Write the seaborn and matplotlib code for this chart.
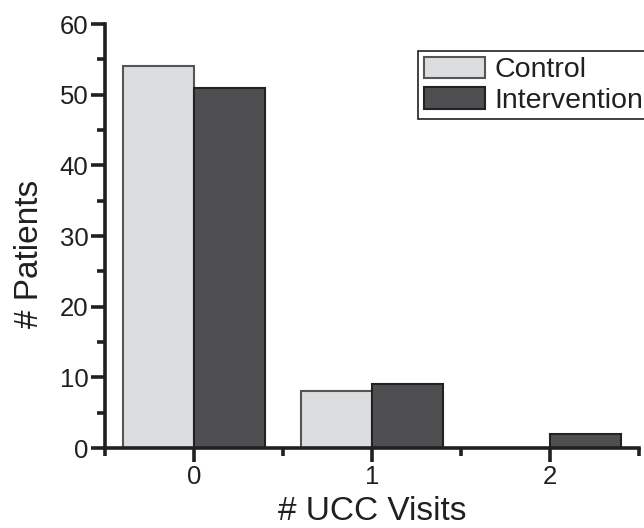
import matplotlib
matplotlib.use("Agg")
import matplotlib.pyplot as plt
import seaborn as sns
import pandas as pd
from matplotlib.ticker import MultipleLocator, FixedLocator
from matplotlib.patches import Patch

# === data ===
visits = ["0", "1", "2"]
control = [54, 8, 0]
intervention = [51, 9, 2]
groups = ["Control", "Intervention"]

df = pd.DataFrame({
    "visits": visits * 2,
    "patients": control + intervention,
    "group": [groups[0]] * len(visits) + [groups[1]] * len(visits),
})

sns.set_style("ticks")
plt.rcParams["font.family"] = ["Liberation Sans", "DejaVu Sans"]

ink = "#231f20"
fills = {"Control": "#dcdddf", "Intervention": "#4f4f51"}
edges = {"Control": "#555555", "Intervention": "#222222"}

fig = plt.figure(figsize=(6.44, 5.28), dpi=100)
ax = fig.add_axes([105 / 644, 1 - 448 / 528, (639 - 105) / 644, (448 - 24) / 528])

sns.barplot(data=df, x="visits", y="patients", hue="group", order=visits,
            hue_order=groups, palette=fills, width=0.8, saturation=1,
            linewidth=1.5, ax=ax, legend=False)

# edge colours per group
for cont, g in zip(ax.containers, groups):
    for p in cont:
        p.set_edgecolor(edges[g])
        p.set_linewidth(1.5)

ax.set_xlim(-0.5, 2.5)
ax.set_ylim(0, 60)
ax.yaxis.set_major_locator(MultipleLocator(10))
ax.yaxis.set_minor_locator(MultipleLocator(5))
ax.xaxis.set_minor_locator(FixedLocator([-0.5, 0.5, 1.5, 2.5]))

for side in ["top", "right"]:
    ax.spines[side].set_visible(False)
for side in ["left", "bottom"]:
    ax.spines[side].set_linewidth(2.6)
    ax.spines[side].set_color(ink)
    ax.spines[side].set_capstyle("projecting")

ax.tick_params(which="major", length=10, width=2.6, color=ink, labelsize=18.5,
               labelcolor=ink, pad=2)
ax.tick_params(which="minor", length=6, width=2.6, color=ink)

ax.set_xlabel("# UCC Visits", fontsize=24, color=ink, labelpad=5.5)
ax.set_ylabel("# Patients", fontsize=24, color=ink)
ax.yaxis.set_label_coords(-0.1125, 0.4587)

# legend
handles = [Patch(facecolor=fills[g], edgecolor=edges[g], linewidth=1.5) for g in groups]
leg = ax.legend(handles, groups, loc="upper left",
                bbox_to_anchor=(418 / 644, 1 - 51 / 528), bbox_transform=fig.transFigure,
                fontsize=20.5, frameon=True, fancybox=False, framealpha=1,
                edgecolor=ink, borderaxespad=0, borderpad=0.2,
                handlelength=2.15, handleheight=0.8, handletextpad=0.35,
                labelspacing=0.12)
leg.get_frame().set_linewidth(1.2)
for t in leg.get_texts():
    t.set_color(ink)

fig.savefig("out.png", dpi=100)
